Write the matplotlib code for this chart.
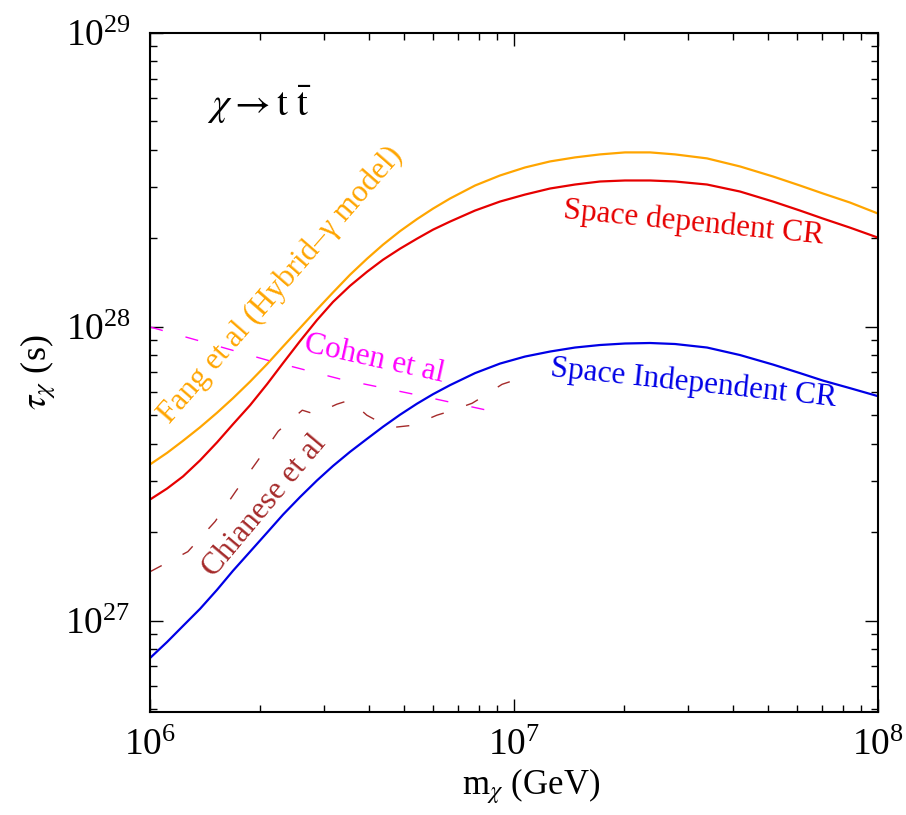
import matplotlib
matplotlib.use('Agg')
import matplotlib.pyplot as plt
from matplotlib.ticker import NullFormatter

plt.rcParams['font.family'] = ['Liberation Serif', 'DejaVu Serif']
plt.rcParams['mathtext.fontset'] = 'stix'

# dark matter mass grid (GeV) shared by the three lifetime bounds
m_chi = [1.000e6, 1.114e6, 1.232e6, 1.372e6, 1.528e6, 1.690e6, 1.883e6, 2.097e6, 2.320e6,
         2.584e6, 2.876e6, 3.183e6, 3.543e6, 3.947e6, 4.366e6, 4.862e6, 5.414e6, 5.991e6,
         6.672e6, 7.814e6, 9.153e6, 1.072e7, 1.256e7, 1.471e7, 1.723e7, 2.018e7, 2.364e7,
         2.769e7, 3.390e7, 4.177e7, 5.147e7, 6.105e7, 7.063e7, 8.377e7, 1.000e8]

tau_fang = [3.407e27, 3.730e27, 4.100e27, 4.557e27, 5.108e27, 5.723e27, 6.516e27, 7.477e27, 8.580e27,
            9.922e27, 1.147e28, 1.311e28, 1.505e28, 1.707e28, 1.905e28, 2.118e28, 2.328e28, 2.527e28,
            2.735e28, 3.028e28, 3.276e28, 3.488e28, 3.657e28, 3.774e28, 3.864e28, 3.925e28, 3.925e28,
            3.864e28, 3.745e28, 3.516e28, 3.250e28, 3.028e28, 2.844e28, 2.650e28, 2.431e28]

tau_dep = [2.588e27, 2.821e27, 3.101e27, 3.516e27, 4.050e27, 4.668e27, 5.417e27, 6.391e27, 7.537e27,
           8.959e27, 1.056e28, 1.217e28, 1.380e28, 1.541e28, 1.693e28, 1.846e28, 1.997e28, 2.143e28,
           2.283e28, 2.489e28, 2.671e28, 2.821e28, 2.958e28, 3.052e28, 3.125e28, 3.150e28, 3.150e28,
           3.125e28, 3.052e28, 2.889e28, 2.671e28, 2.489e28, 2.337e28, 2.177e28, 2.013e28]

tau_indep = [7.477e26, 8.479e26, 9.615e26, 1.099e27, 1.276e27, 1.481e27, 1.720e27, 1.997e27, 2.300e27,
             2.640e27, 3.006e27, 3.368e27, 3.759e27, 4.164e27, 4.576e27, 5.028e27, 5.483e27, 5.906e27,
             6.340e27, 6.966e27, 7.507e27, 7.931e27, 8.249e27, 8.512e27, 8.682e27, 8.785e27, 8.819e27,
             8.750e27, 8.512e27, 8.025e27, 7.448e27, 6.966e27, 6.568e27, 6.192e27, 5.815e27]

# other limits from the literature
m_cohen = [1.0e6, 1.37e6, 2.10e6, 3.33e6, 5.28e6, 8.43e6]
tau_cohen = [1.0e28, 8.96e27, 7.71e27, 6.65e27, 5.91e27, 5.21e27]

m_chianese = [1.0e6, 1.27e6, 1.51e6, 1.72e6, 1.97e6, 2.25e6, 2.62e6, 2.84e6, 3.26e6, 3.54e6,
              3.94e6, 4.28e6, 4.71e6, 5.28e6, 6.14e6, 6.67e6, 7.67e6, 8.17e6, 9.27e6, 9.88e6]
tau_chianese = [1.47e27, 1.72e27, 2.18e27, 2.76e27, 3.49e27, 4.42e27, 5.21e27, 5.05e27, 5.46e27, 5.64e27,
                5.01e27, 4.74e27, 4.56e27, 4.63e27, 5.01e27, 5.17e27, 5.50e27, 5.77e27, 6.38e27, 6.55e27]

c_fang = '#FFA500'
c_dep = '#E60000'
c_indep = '#0000E6'
c_cohen = '#FF00FF'
c_chianese = '#A52A2A'

fig = plt.figure(figsize=(9.06, 8.15), dpi=100)
ax = fig.add_axes([0.1656, 0.1264, 0.8035, 0.8331])

ax.plot(m_chi, tau_fang, color=c_fang, lw=1.6)
ax.plot(m_chi, tau_dep, color=c_dep, lw=1.6)
ax.plot(m_chi, tau_indep, color=c_indep, lw=1.6)
ax.plot(m_cohen, tau_cohen, color=c_cohen, lw=1.0, dashes=(9.5, 17))
ax.plot(m_chianese, tau_chianese, color=c_chianese, lw=1.0, dashes=(9.5, 17))

ax.set_xscale('log')
ax.set_yscale('log')
ax.set_xlim(1e6, 1e8)
ax.set_ylim(4.9e26, 1e29)

ax.tick_params(which='both', direction='in', top=True, right=True, width=1)
ax.tick_params(which='major', length=9.5, labelsize=27)
ax.tick_params(which='minor', length=5)
ax.tick_params(axis='x', which='major', pad=12)
ax.tick_params(axis='y', which='major', pad=14)
ax.xaxis.set_minor_formatter(NullFormatter())
ax.yaxis.set_minor_formatter(NullFormatter())
for s in ax.spines.values():
    s.set_linewidth(1.5)

ax.set_xlabel(r'm$_\chi$ (GeV)', fontsize=25)
ax.set_ylabel(r'$\tau_\chi$ (s)', fontsize=26)
ax.xaxis.set_label_coords(0.523, -0.08)
ax.yaxis.set_label_coords(-0.126, 0.5)

ax.text(0.078, 0.878, r'$\chi \rightarrow \mathrm{t}\ \bar{\mathrm{t}}$', transform=ax.transAxes,
        fontsize=28, ha='left', va='baseline')

lab = dict(fontsize=22.5, ha='left', va='baseline', rotation_mode='anchor')
ax.text(1.131e6, 4.67e27, u'Fang et al (Hybrid\u2013\u03b3 model)', color=c_fang, rotation=49, **lab)
ax.text(1.499e6, 1.40e27, 'Chianese et al', color=c_chianese, rotation=50, **lab)
ax.text(2.63e6, 8.28e27, 'Cohen et al', color=c_cohen, rotation=-12.5, **lab)
ax.text(1.36e7, 2.34e28, 'Space dependent CR', color=c_dep, rotation=-5.6, **lab)
ax.text(1.256e7, 6.81e27, 'Space Independent CR', color=c_indep, rotation=-6, **lab)

fig.savefig('out.png', dpi=100)
